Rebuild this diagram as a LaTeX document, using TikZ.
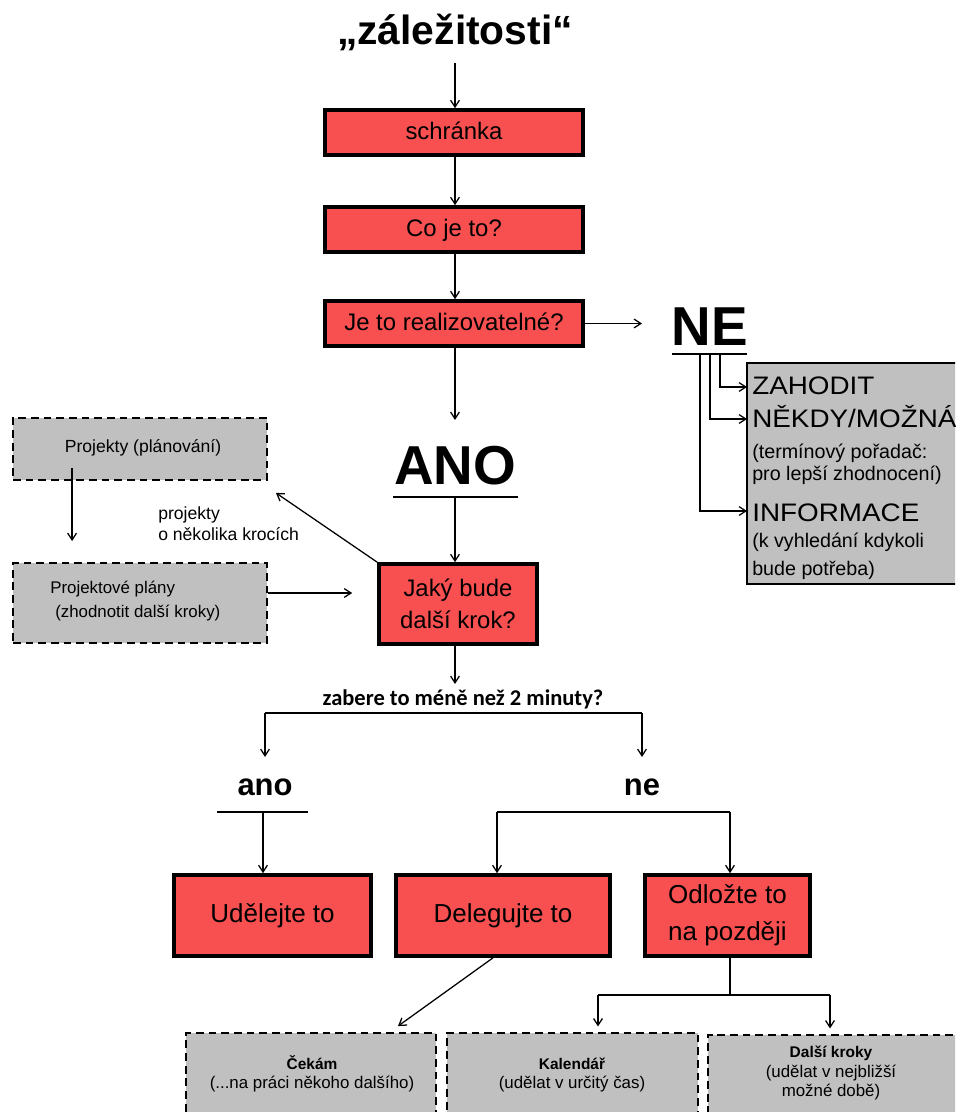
\documentclass[tikz,border=0pt]{standalone}
\usepackage{fontspec}
\setmainfont{Liberation Sans}
\newfontfamily\calfont{Carlito}
\newfontfamily\widefont[FakeStretch=1.1]{Liberation Sans}
\usetikzlibrary{arrows.meta,calc}
\definecolor{boxred}{RGB}{248,80,80}
\definecolor{boxgray}{RGB}{192,192,192}
\newcommand\fs[2]{\fontsize{#1pt}{#2pt}\selectfont}

\begin{document}
\begin{tikzpicture}[x=0.025cm,y=-0.025cm,
  wh/.style 2 args={minimum width=#1*0.025cm, minimum height=#2*0.025cm},
  redbox/.style={draw=black, line width=2.6pt, fill=boxred, inner sep=0pt,
                 align=center, text=black},
  oneline/.style={text height=0.78*#1, text depth=0.22*#1},
  dashbox/.style={draw=black, line width=1.3pt, dash pattern=on 5.5pt off 3.5pt,
                  fill=boxgray, inner sep=0pt},
  solidbox/.style={draw=black, line width=1pt, fill=boxgray, inner sep=0pt},
  txt/.style={inner sep=0pt, text=black, anchor=base},
  ltxt/.style={inner sep=0pt, text=black, anchor=base west},
  conn/.style={line width=0.9pt},
  arr/.style={conn, -{Straight Barb[length=1.7mm,width=2.2mm]}},
]
\useasboundingbox (0,0) rectangle (955,1112);
\fill[white] (0,0) rectangle (955,1112);
\clip (0,0) rectangle (955,1112);

% ---------- main column ----------
\node[txt, font=\bfseries\fs{29}{34}] (title) at (455,44) {„záležitosti“};
\node[redbox, oneline=17pt, wh={258}{45}, font=\fs{17}{20}] (schr) at (454,132.5) {schránka};
\node[redbox, oneline=17pt, wh={258}{45}, font=\fs{17}{20}] (co)   at (454,229.5) {Co je to?};
\node[redbox, oneline=17pt, wh={258}{45}, font=\fs{17}{20}] (real) at (454,323.5) {Je to realizovatelné?};

\node[txt, font=\bfseries\fs{39}{44}] (ne)  at (710,345) {NE};
\node[txt, font=\bfseries\fs{39}{44}] (ano) at (455,484) {ANO};

\node[redbox, wh={158}{80}, font=\fs{17}{22.8}] (jaky) at (458,604) {Jaký bude\\další krok?};

\node[txt, font=\calfont\bfseries\fs{16}{19}] (q) at (463,705) {zabere to méně než 2 minuty?};
\node[txt, font=\bfseries\fs{22}{26}] (ano2) at (265,795) {ano};
\node[txt, font=\bfseries\fs{22}{26}] (ne2)  at (642,795) {ne};

\node[redbox, oneline=18.5pt, wh={197}{81}, font=\fs{18.5}{22}] (udel)  at (272.5,915.5) {Udělejte to};
\node[redbox, oneline=18.5pt, wh={214}{81}, font=\fs{18.5}{22}] (deleg) at (503,915.5) {Delegujte to};
\node[redbox, wh={165}{81}, font=\fs{18.5}{26.3}] (odl) at (727.5,915.5) {Odložte to\\na později};

% ---------- bottom trays ----------
\node[dashbox, wh={250}{100}] (cek) at (311,1083) {};
\node[dashbox, wh={251}{100}] (kal) at (572.5,1083) {};
\node[dashbox, wh={257}{98}]  (dal) at (836.5,1084) {};

\node[txt, font=\bfseries\fs{11}{13}] (cek1) at (312,1069) {Čekám};
\node[txt, font=\fs{12}{14}] (cek2) at (312,1088) {(...na práci někoho dalšího)};
\node[txt, font=\bfseries\fs{11}{13}] (kal1) at (572,1069) {Kalendář};
\node[txt, font=\fs{12}{14}] (kal2) at (572,1088) {(udělat v určitý čas)};
\node[txt, font=\bfseries\fs{11}{13}] (dal1) at (831,1057) {Další kroky};
\node[txt, font=\fs{12}{14}] (dal2) at (831,1077) {(udělat v nejbližší};
\node[txt, font=\fs{12}{14}] (dal3) at (831,1096) {možné době)};

% ---------- project boxes ----------
\node[dashbox, wh={254}{62}] (proj)  at (140,449) {};
\node[dashbox, wh={254}{80}] (plany) at (140,603) {};
\node[txt, font=\fs{12.5}{15}] (projt) at (143,452) {Projekty (plánování)};
\node[ltxt, font=\fs{12}{14}] (plt1) at (50,593) {Projektové plány};
\node[ltxt, font=\fs{12}{14}] (plt2) at (55,617) {(zhodnotit další kroky)};
\node[ltxt, font=\fs{12.5}{15}] (pk1) at (158,519) {projekty};
\node[ltxt, font=\fs{12.5}{15}] (pk2) at (158,540) {o několika krocích};

% ---------- trash / someday / reference ----------
\node[solidbox, wh={218}{221}] (neb) at (856,473.5) {};
\node[ltxt, font=\widefont\fs{18}{21}] (zah) at (752,394) {ZAHODIT};
\node[ltxt, font=\widefont\fs{18}{21}] (nek) at (752,427) {NĚKDY/MOŽNÁ};
\node[ltxt, font=\fs{14}{16}] (nek2) at (752,458) {(termínový pořadač:};
\node[ltxt, font=\fs{14}{16}] (nek3) at (752,480) {pro lepší zhodnocení)};
\node[ltxt, font=\widefont\fs{18}{21}] (inf) at (752,521) {INFORMACE};
\node[ltxt, font=\fs{14}{16}] (inf2) at (752,547) {(k vyhledání kdykoli};
\node[ltxt, font=\fs{14}{16}] (inf3) at (752,575) {bude potřeba)};

% ---------- junction points ----------
\coordinate (t0) at (455,63);
\coordinate (neIn) at (642,323.5);
\coordinate (neUL) at (672,354);
\coordinate (neUR) at (747,354);
\coordinate (nb1) at (700,354);
\coordinate (nb2) at (710,354);
\coordinate (nb3) at (720,354);
\coordinate (a1) at (747,387);
\coordinate (a2) at (747,419);
\coordinate (a3) at (747,511);
\coordinate (anoIn) at (455,420);
\coordinate (anoUL) at (393,497);
\coordinate (anoUR) at (518,497);
\coordinate (anoM) at (455,497);
\coordinate (qIn) at (455,684);
\coordinate (bl) at (265,713);
\coordinate (br) at (642,713);
\coordinate (blE) at (265,757);
\coordinate (brE) at (642,757);
\coordinate (auL) at (217,812);
\coordinate (auR) at (308,812);
\coordinate (auM) at (263,812);
\coordinate (nuL) at (497,812);
\coordinate (nuR) at (730,812);
\coordinate (odJ) at (730,995);
\coordinate (kL) at (598,995);
\coordinate (kR) at (830,995);

% ---------- connectors ----------
\draw[arr] (t0) -- (schr.north -| t0);
\draw[arr] (schr.south -| t0) -- (co.north -| t0);
\draw[arr] (co.south -| t0) -- (real.north -| t0);
\draw[arr] (real.east) -- (neIn);
\draw[conn] (neUL) -- (neUR);
\draw[arr] (nb3) |- (a1);
\draw[arr] (nb2) |- (a2);
\draw[arr] (nb1) |- (a3);
\draw[arr] (real.south -| anoIn) -- (anoIn);
\draw[conn] (anoUL) -- (anoUR);
\draw[arr] (anoM) -- (anoM |- jaky.north);
\draw[arr] (jaky.south -| qIn) -- (qIn);
\draw[conn] (bl) -- (br);
\draw[arr] (bl) -- (blE);
\draw[arr] (br) -- (brE);
\draw[conn] (auL) -- (auR);
\draw[arr] (auM) -- (auM |- udel.north);
\draw[conn] (nuL) -- (nuR);
\draw[arr] (nuL) -- (nuL |- deleg.north);
\draw[arr] (nuR) -- (nuR |- odl.north);
\draw[arr] ($(deleg.south)+(-10,0)$) -- ($(cek.north)+(87,-6)$);
\draw[conn] (odl.south -| odJ) -- (odJ);
\draw[conn] (kL) -- (kR);
\draw[arr, shorten >=4pt] (kL) -- (kL |- kal.north);
\draw[arr, shorten >=4pt] (kR) -- (kR |- dal.north);
\draw[arr] ($(proj.south west)+(60,-13)$) -- ($(plany.north west)+(60,-21)$);
\draw[arr] ($(plany.east)+(0,-10)$) -- ($(jaky.west)+(-25,-11)$);
\draw[arr] (jaky.north west) -- ($(proj.south east)+(8,12)$);
\end{tikzpicture}
\end{document}
